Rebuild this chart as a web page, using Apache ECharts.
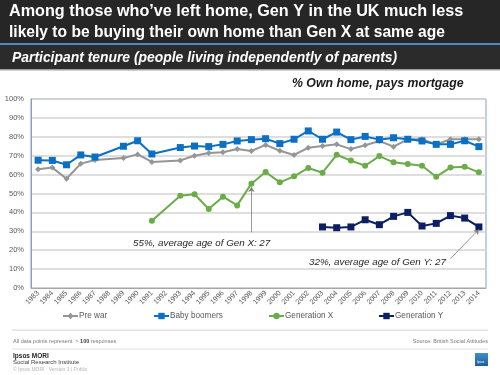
<!DOCTYPE html>
<html>
<head>
<meta charset="utf-8">
<script src="https://cdn.jsdelivr.net/npm/echarts@6/dist/echarts.min.js"></script>
<style>
  html, body { margin: 0; padding: 0; background: #fff; }
  #chart { width: 500px; height: 375px; }
</style>
</head>
<body>
<div id="chart"></div>
<script>
// 年份（横轴）
var years = ["1983", "1984", "1985", "1986", "1987", "1988", "1989", "1990", "1991", "1992",
  "1993", "1994", "1995", "1996", "1997", "1998", "1999", "2000", "2001", "2002",
  "2003", "2004", "2005", "2006", "2007", "2008", "2009", "2010", "2011", "2012",
  "2013", "2014"];

// 各代人数据（%），null 表示当年没有数据
var preWar = [62.8, 63.7, 57.8, 65.8, 67.7, null, 68.8, 70.7, 66.7, null,
  67.5, 70.0, 71.4, 71.8, 73.5, 72.5, 75.7, 72.6, 70.4, 74.2,
  75.1, 76.0, 73.5, 75.5, 77.8, 74.8, 78.7, 78.7, 76.0, 78.7,
  78.7, 78.7];
var babyBoomers = [67.6, 67.5, 65.2, 70.4, 69.3, null, 75.0, 77.9, 70.9, null,
  74.3, 75.1, 74.8, 76.0, 77.8, 78.5, 79.0, 76.4, 78.7, 83.1,
  78.7, 82.5, 78.5, 80.2, 78.5, 79.5, 78.7, 77.8, 76.0, 76.0,
  77.9, 74.8];
var genX = [null, null, null, null, null, null, null, null, 35.6, null,
  48.8, 49.6, 41.8, 48.3, 43.7, 55.2, 61.4, 55.9, 59.1, 63.5,
  61.0, 70.5, 67.4, 64.7, 69.8, 66.5, 65.6, 64.7, 58.9, 63.7,
  64.2, 61.2];
var genY = [null, null, null, null, null, null, null, null, null, null,
  null, null, null, null, null, null, null, null, null, null,
  32.3, 31.9, 32.3, 36.1, 33.5, 37.9, 40.0, 32.8, 34.2, 38.3,
  37.0, 32.3];

var yTicks = [0, 10, 20, 30, 40, 50, 60, 70, 80, 90, 100];

var FONT = "Liberation Sans, Arial, sans-serif";
var arrowStyle = { color: "#7f7f7f", width: 0.8, type: "solid" };

var chart = echarts.init(document.getElementById("chart"));

function lineSeries(name, data, color, symbol, size) {
  return {
    name: name,
    type: "line",
    data: data,
    connectNulls: true,
    symbol: symbol,
    symbolSize: size,
    showSymbol: true,
    lineStyle: { color: color, width: 2 },
    itemStyle: { color: color },
    animation: false
  };
}

var sPre = lineSeries("Pre war", preWar, "#959595", "diamond", 6);
var sBoom = lineSeries("Baby boomers", babyBoomers, "#0b6fc4", "rect", 7);
var sX = lineSeries("Generation X", genX, "#6aad48", "circle", 6);
var sY = lineSeries("Generation Y", genY, "#0d1f63", "rect", 7);

// 箭头标注
sX.markLine = {
  silent: true,
  animation: false,
  symbolSize: 5,
  label: { show: false },
  lineStyle: arrowStyle,
  data: [[{ coord: ["1998", 29.5], symbol: "none" }, { coord: ["1998", 53.5], symbol: "arrow" }]]
};
sY.markLine = {
  silent: true,
  animation: false,
  symbolSize: 5,
  label: { show: false },
  lineStyle: arrowStyle,
  data: [[{ coord: ["2012", 15.5], symbol: "none" }, { coord: ["2014", 31], symbol: "arrow" }]]
};

function legendAt(name, left) {
  return {
    data: [name],
    left: left,
    top: 312,
    itemWidth: 15,
    itemHeight: 8,
    itemGap: 0,
    padding: 0,
    textStyle: { fontSize: 8.2, color: "#595959", fontFamily: FONT, padding: [0, 0, 0, -4] }
  };
}

var option = {
  animation: false,
  backgroundColor: "#ffffff",
  textStyle: { fontFamily: FONT },
  grid: {
    left: 31, right: 14, top: 99, bottom: 87,
    show: true, borderColor: "#8a9cc4", borderWidth: 1, backgroundColor: "transparent"
  },
  legend: [
    legendAt("Pre war", 62),
    legendAt("Baby boomers", 153),
    legendAt("Generation X", 268),
    legendAt("Generation Y", 378)
  ],
  xAxis: {
    type: "category",
    data: years,
    boundaryGap: true,
    axisLine: { lineStyle: { color: "#a6a6a6", width: 1 } },
    axisTick: { show: false },
    axisLabel: {
      rotate: 45, fontSize: 7.2, color: "#595959", interval: 0, margin: 4, fontFamily: FONT
    }
  },
  yAxis: {
    type: "value",
    min: yTicks[0],
    max: yTicks[yTicks.length - 1],
    interval: 10,
    axisLine: { show: true, lineStyle: { color: "#8a9cc4", width: 1 } },
    axisTick: { show: false },
    axisLabel: { formatter: "{value}%", fontSize: 7.5, color: "#595959", margin: 7, fontFamily: FONT },
    splitLine: { lineStyle: { color: "#d3d3d3", width: 1.5 } }
  },
  series: [sPre, sBoom, sX, sY],
  graphic: [
    // 标题栏
    { type: "rect", left: 0, top: 0, shape: { width: 500, height: 43 }, style: { fill: "#262626" }, silent: true },
    { type: "rect", left: 0, top: 43, shape: { width: 500, height: 2 }, style: { fill: "#4f86be" }, silent: true },
    { type: "rect", left: 0, top: 45, shape: { width: 500, height: 24 }, style: { fill: "#2b2b2b" }, silent: true },
    { type: "rect", left: 0, top: 69, shape: { width: 500, height: 1.5 }, style: { fill: "#a0a0a0" }, silent: true },
    {
      type: "text", left: 9, top: 4,
      style: {
        text: "Among those who\u2019ve left home, Gen Y in the UK much less",
        fill: "#ffffff", font: "bold 16.2px " + FONT
      }
    },
    {
      type: "text", left: 9, top: 24.5,
      style: {
        text: "likely to be buying their own home than Gen X at same age",
        fill: "#ffffff", font: "bold 15.6px " + FONT
      }
    },
    {
      type: "text", left: 12, top: 51,
      style: {
        text: "Participant tenure (people living independently of parents)",
        fill: "#ffffff", font: "italic bold 13.9px " + FONT
      }
    },
    {
      type: "text", left: 292, top: 78,
      style: { text: "% Own home, pays mortgage", fill: "#1a1a1a", font: "italic bold 12.3px " + FONT }
    },
    // 注释文字
    {
      type: "text", left: 133, top: 238,
      style: { text: "55%, average age of Gen X: 27", fill: "#262626", font: "italic 9.8px " + FONT }
    },
    {
      type: "text", left: 309, top: 257,
      style: { text: "32%, average age of Gen Y: 27", fill: "#262626", font: "italic 9.8px " + FONT }
    },
    // 页脚
    { type: "rect", left: 12, top: 329.5, shape: { width: 476, height: 1.2 }, style: { fill: "#dcdcdc" }, silent: true },
    { type: "rect", left: 12, top: 348.5, shape: { width: 476, height: 1 }, style: { fill: "#e2e2e2" }, silent: true },
    {
      type: "text", left: 13, top: 338,
      style: {
        text: "All data points represent  > {b|100} responses",
        fill: "#7a7a7a", font: "5.5px " + FONT,
        rich: { b: { fontWeight: "bold", fontSize: 5.5, fill: "#404040" } }
      }
    },
    {
      type: "text", right: 12, top: 338,
      style: { text: "Source: British Social Attitudes", fill: "#7a7a7a", font: "5.5px " + FONT }
    },
    { type: "text", left: 13, top: 352.5, style: { text: "Ipsos MORI", fill: "#262626", font: "bold 6.5px " + FONT } },
    { type: "text", left: 13, top: 359.5, style: { text: "Social Research Institute", fill: "#404040", font: "6px " + FONT } },
    { type: "text", left: 13, top: 367, style: { text: "\u00a9 Ipsos MORI   Version 1 | Public", fill: "#b5b5b5", font: "5px " + FONT } },
    {
      type: "rect", left: 475, top: 353, shape: { width: 13, height: 13 },
      style: {
        fill: new echarts.graphic.LinearGradient(0, 0, 0, 1, [
          { offset: 0, color: "#3f8fc9" }, { offset: 1, color: "#1f5d9c" }
        ])
      },
      silent: true
    },
    { type: "text", left: 477, top: 361, style: { text: "Ipsos", fill: "#ffffff", font: "3px " + FONT } }
  ]
};

chart.setOption(option);
</script>
</body>
</html>
